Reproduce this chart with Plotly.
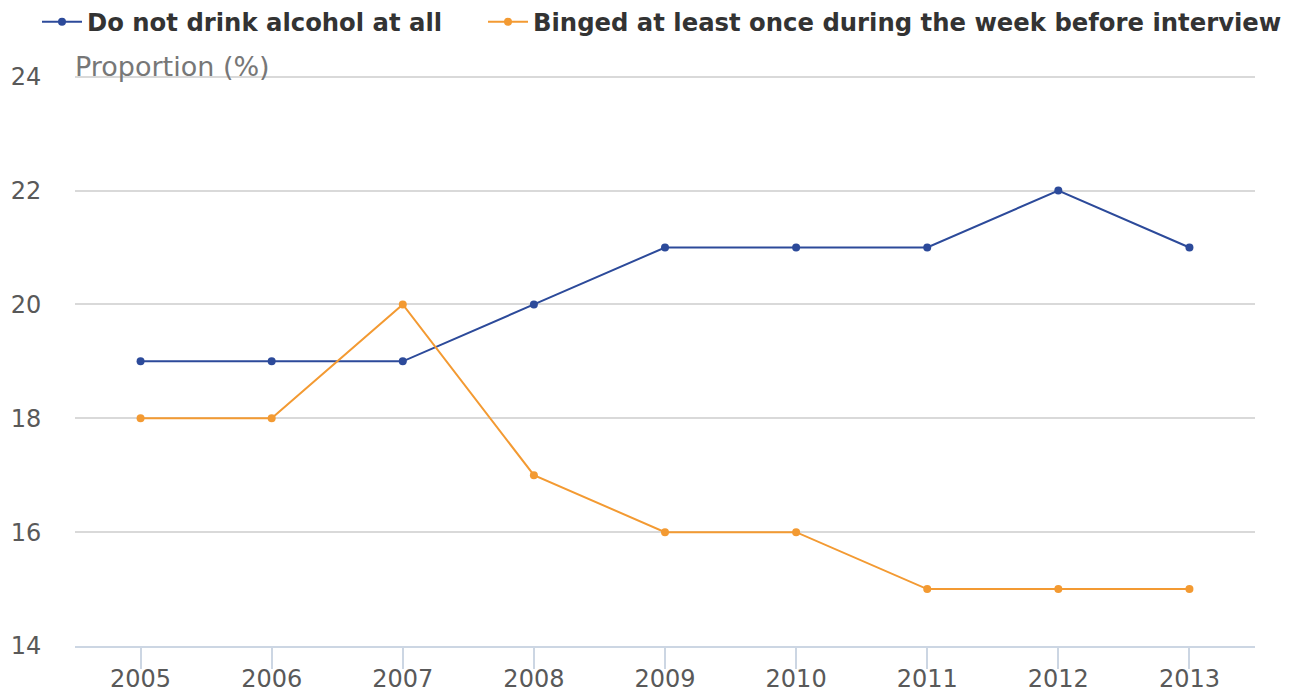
import plotly.graph_objects as go

years = ["2005", "2006", "2007", "2008", "2009", "2010", "2011", "2012", "2013"]
no_alcohol = [19, 19, 19, 20, 21, 21, 21, 22, 21]
binged = [18, 18, 20, 17, 16, 16, 15, 15, 15]
y_ticks = [14, 16, 18, 20, 22, 24]

BLUE = "#2c4a9a"
ORANGE = "#f39a32"

fig = go.Figure()
fig.add_trace(go.Scatter(
    x=years, y=no_alcohol, mode="lines+markers",
    name="Do not drink alcohol at all", legend="legend",
    line=dict(color=BLUE, width=2), marker=dict(size=8, color=BLUE),
))
fig.add_trace(go.Scatter(
    x=years, y=binged, mode="lines+markers",
    name="Binged at least once during the week before interview", legend="legend2",
    line=dict(color=ORANGE, width=2), marker=dict(size=8, color=ORANGE),
))

legend_font = dict(family="DejaVu Sans", size=24.3, color="#333333", weight="bold")

fig.update_layout(
    width=1293, height=691,
    margin=dict(l=67, r=46, t=67, b=53, autoexpand=False),
    paper_bgcolor="white", plot_bgcolor="white",
    font=dict(family="DejaVu Sans", size=24, color="#555555"),
    showlegend=True,
    legend=dict(
        orientation="h", xref="container", x=29 / 1293, xanchor="left",
        yref="container", y=1 - 14 / 691, yanchor="middle",
        font=legend_font, itemwidth=40,
    ),
    legend2=dict(
        orientation="h", xref="container", x=475 / 1293, xanchor="left",
        yref="container", y=1 - 14 / 691, yanchor="middle",
        font=legend_font, itemwidth=40,
    ),
    xaxis=dict(
        type="category", range=[-0.5, 8.5], automargin=False,
        showgrid=False, showline=True, linecolor="#ccd6e3", linewidth=2,
        ticks="outside", ticklen=21, tickwidth=2, tickcolor="#ccd6e3",
        tickfont=dict(size=24, color="#595959"), ticklabelstandoff=-11,
    ),
    yaxis=dict(
        range=[14, 24.03], tickvals=y_ticks, automargin=False,
        showgrid=True, gridcolor="#d9d9d9", gridwidth=2,
        zeroline=False, showline=False,
        ticks="outside", ticklen=28, tickcolor="rgba(0,0,0,0)",
        tickfont=dict(size=24, color="#595959"),
    ),
    annotations=[dict(
        text="Proportion (%)", xref="paper", yref="paper", x=0, y=1,
        xanchor="left", yanchor="middle", showarrow=False, yshift=9, xshift=-2,
        font=dict(family="DejaVu Sans", size=27, color="#777777"),
    )],
)

fig.write_html("out.html")
